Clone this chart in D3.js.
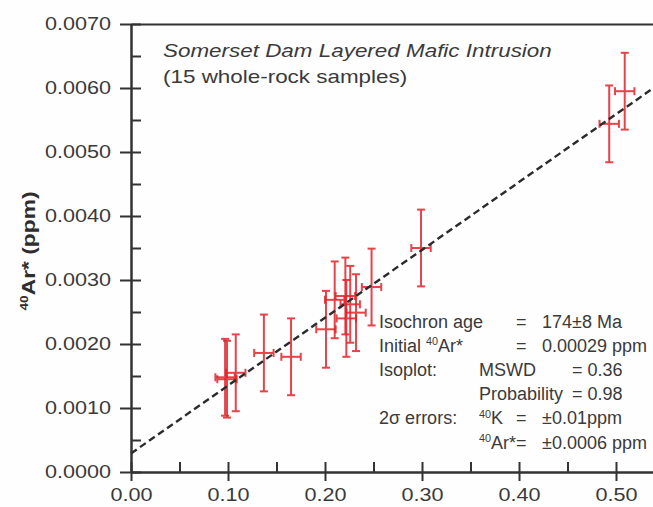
<!DOCTYPE html>
<html>
<head>
<meta charset="utf-8">
<script src="https://cdn.jsdelivr.net/npm/d3@7"></script>
<style>
body { margin: 0; background: #fefefe; }
svg { display: block; font-family: "Liberation Sans", Arial, sans-serif; }
</style>
</head>
<body>
<div id="chart"></div>
<script>
const width = 653, height = 507;
const axisColor = "#333", textColor = "#3a3a3a", red = "#e3232a";

// 40K (ppm) and 40Ar* (ppm) for the 15 whole-rock samples
const potassium = [0.097, 0.099, 0.108, 0.137, 0.165, 0.201, 0.210, 0.221, 0.222, 0.226, 0.232, 0.248, 0.299, 0.493, 0.509];
const argon = [0.00148, 0.00145, 0.00155, 0.00186, 0.00180, 0.00223, 0.00269, 0.00275, 0.00240, 0.00262, 0.00249, 0.00289, 0.00350, 0.00544, 0.00595];
const errK = 0.01;
const errAr = 0.0006;

// isochron fit
const isoIntercept = 0.00029;
const isoSlope = 0.0106;
const isoRange = [0, 0.6];

const xTicks = [0, 0.1, 0.2, 0.3, 0.4, 0.5];
const xMinor = [0.05, 0.15, 0.25, 0.35, 0.45, 0.55];
const yTicks = [0, 0.001, 0.002, 0.003, 0.004, 0.005, 0.006, 0.007];
const yMinor = [0.0005, 0.0015, 0.0025, 0.0035, 0.0045, 0.0055, 0.0065];

var svg, x, y;

function stretch(sel, factor) {
    sel.each(function () {
        const w = this.getComputedTextLength();
        d3.select(this).attr("textLength", w * factor).attr("lengthAdjust", "spacingAndGlyphs");
    });
}

// text made of plain and superscript parts, e.g. [["40", true], ["Ar*", false]]
function richText(g, parts, xPos, yPos, size) {
    const t = g.append("text").attr("x", xPos).attr("y", yPos)
        .attr("font-size", size).attr("fill", textColor);
    let up = false;
    for (const p of parts) {
        const sup = p[1];
        const ts = t.append("tspan").text(p[0]);
        if (sup && !up) { ts.attr("dy", -size * 0.38).attr("font-size", size * 0.6); up = true; }
        else if (sup) { ts.attr("font-size", size * 0.6); }
        else if (up) { ts.attr("dy", size * 0.38); up = false; }
    }
    return t;
}

function draw() {
    svg = d3.select("#chart").append("svg")
        .attr("width", width)
        .attr("height", height);

    x = d3.scaleLinear().domain([0, 0.6]).range([131, 131 + 0.6 * 970]);
    y = d3.scaleLinear().domain([0, 0.007]).range([472, 24]);

    // error bars
    const pts = potassium.map(function (k, i) { return { k: k, ar: argon[i] }; });
    const pt = svg.append("g").selectAll("g").data(pts).enter().append("g")
        .attr("stroke", red).attr("stroke-width", 2).attr("opacity", 0.85).attr("fill", "none");
    pt.append("line")
        .attr("x1", d => x(d.k)).attr("x2", d => x(d.k))
        .attr("y1", d => y(d.ar - errAr)).attr("y2", d => y(d.ar + errAr));
    pt.append("line")
        .attr("x1", d => x(d.k - errK)).attr("x2", d => x(d.k + errK))
        .attr("y1", d => y(d.ar)).attr("y2", d => y(d.ar));
    [-errAr, errAr].forEach(function (e) {
        pt.append("line")
            .attr("x1", d => x(d.k) - 4).attr("x2", d => x(d.k) + 4)
            .attr("y1", d => y(d.ar + e)).attr("y2", d => y(d.ar + e));
    });
    [-errK, errK].forEach(function (e) {
        pt.append("line")
            .attr("x1", d => x(d.k + e)).attr("x2", d => x(d.k + e))
            .attr("y1", d => y(d.ar) - 4).attr("y2", d => y(d.ar) + 4);
    });

    // isochron
    svg.append("line")
        .attr("x1", x(isoRange[0])).attr("y1", y(isoIntercept + isoSlope * isoRange[0]))
        .attr("x2", x(isoRange[1])).attr("y2", y(isoIntercept + isoSlope * isoRange[1]))
        .attr("stroke", "#2b2b2b").attr("stroke-width", 2.4).attr("stroke-dasharray", "7,4");

    // axes: outer ticks with labels, inner ticks without
    const yOut = svg.append("g").attr("transform", "translate(131,0)")
        .call(d3.axisLeft(y).tickValues(yTicks).tickSize(11).tickSizeOuter(0).tickPadding(9).tickFormat(d3.format(".4f")));
    const yIn = svg.append("g").attr("transform", "translate(131,0)")
        .call(d3.axisLeft(y).tickValues(yTicks.concat(yMinor)).tickSize(-10).tickSizeOuter(0).tickFormat(""));
    const xOut = svg.append("g").attr("transform", "translate(0,472)")
        .call(d3.axisBottom(x).tickValues(xTicks).tickSize(9).tickSizeOuter(0).tickPadding(7).tickFormat(d3.format(".2f")));
    const xIn = svg.append("g").attr("transform", "translate(0,472)")
        .call(d3.axisBottom(x).tickValues(xTicks.concat(xMinor)).tickSize(-10).tickSizeOuter(0).tickFormat(""));
    const top = svg.append("g").attr("transform", "translate(0,24)")
        .call(d3.axisTop(x).tickValues([]).tickSizeOuter(0));

    [yOut, yIn, xOut, xIn, top].forEach(function (g) {
        g.attr("font-family", null).attr("font-size", null);
        g.selectAll("path, line").attr("stroke", axisColor).attr("stroke-width", 2);
    });
    svg.selectAll(".tick text").attr("fill", textColor).attr("font-size", 18);
    stretch(yOut.selectAll("text"), 1.2);
    stretch(xOut.selectAll("text"), 1.2);

    // y axis title
    const yl = svg.append("g").attr("transform", "translate(35,251) rotate(-90)");
    const ylt = richText(yl, [["40", true], ["Ar* (ppm)", false]], 0, 0, 19)
        .attr("font-weight", "bold").attr("text-anchor", "middle").attr("fill", "#2e2e2e");
    stretch(ylt, 1.2);

    // title
    const t1 = svg.append("text").attr("x", 163).attr("y", 56.5)
        .attr("font-size", 19).attr("font-style", "italic").attr("fill", textColor)
        .text("Somerset Dam Layered Mafic Intrusion");
    const t2 = svg.append("text").attr("x", 163).attr("y", 83)
        .attr("font-size", 19).attr("fill", textColor)
        .text("(15 whole-rock samples)");
    stretch(t1, 1.18);
    stretch(t2, 1.18);

    // fit statistics
    const st = svg.append("g");
    const rowY = function (i) { return 328 + i * 24.1; };
    richText(st, [["Isochron age", false]], 379, rowY(0), 18);
    richText(st, [["=", false]], 516, rowY(0), 18);
    richText(st, [["174±8 Ma", false]], 542, rowY(0), 18);
    richText(st, [["Initial ", false], ["40", true], ["Ar*", false]], 379, rowY(1), 18);
    richText(st, [["=", false]], 516, rowY(1), 18);
    richText(st, [["0.00029 ppm", false]], 542, rowY(1), 18);
    richText(st, [["Isoplot:", false]], 379, rowY(2), 18);
    richText(st, [["MSWD", false]], 479, rowY(2), 18);
    richText(st, [["= 0.36", false]], 572, rowY(2), 18);
    richText(st, [["Probability", false]], 479, rowY(3), 18);
    richText(st, [["= 0.98", false]], 572, rowY(3), 18);
    richText(st, [["2σ errors:", false]], 379, rowY(4), 18);
    richText(st, [["40", true], ["K", false]], 479, rowY(4), 18);
    richText(st, [["=", false]], 516, rowY(4), 18);
    richText(st, [["±0.01ppm", false]], 542, rowY(4), 18);
    richText(st, [["40", true], ["Ar*=", false]], 479, rowY(5), 18);
    richText(st, [["±0.0006 ppm", false]], 542, rowY(5), 18);
}

function main() {
    draw();
}

main();
</script>
</body>
</html>
